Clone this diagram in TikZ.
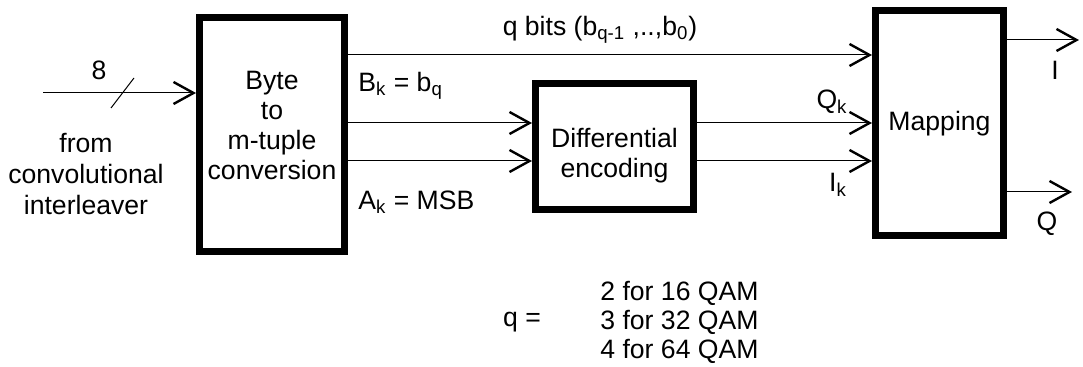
\documentclass[tikz,border=0pt]{standalone}
\usepackage{fontspec}
\setmainfont{Liberation Sans}
\usetikzlibrary{arrows.meta}

\begin{document}
\begin{tikzpicture}[x=0.5pt,y=-0.5pt,font=\fontsize{13.3}{15.5}\selectfont,
    box/.style={draw,line width=3.5pt,inner sep=0pt},
    sig/.style={line width=0.5pt,-{Straight Barb[length=10pt,width=11pt,line width=1.2pt]}}]
    \useasboundingbox(0,0)rectangle(1083,367);
    % blocks
    \node[box,minimum width=72.5pt,minimum height=117pt](byte)at(272,134.5){};
    \node[box,minimum width=79pt,minimum height=63pt](diff)at(614.5,146.5){};
    \node[box,minimum width=64pt,minimum height=112.75pt](map)at(939.5,123.25){Mapping};
    \node[align=center,font=\fontsize{13.3}{15}\selectfont](bytetxt)at(272,125){Byte\\to\\m-tuple\\conversion};
    \node[align=center,font=\fontsize{13.3}{15}\selectfont](difftxt)at(614.5,156){Differential\\encoding};
    \path(43,93)coordinate(in)(1079,40)coordinate(I)(1072,192)coordinate(Q);
    % connectors
    \draw[sig](in)--(in-|byte.west);
    \draw[line width=0.5pt](111,108)coordinate(s1)--(134,78)coordinate(s2);
    \draw[sig](byte.east|-0,55)--(map.west|-0,55);
    \draw[sig](byte.east|-0,123)--(diff.west|-0,123);
    \draw[sig](byte.east|-0,161)--(diff.west|-0,161);
    \draw[sig](diff.east|-0,123)--(map.west|-0,123);
    \draw[sig](diff.east|-0,161)--(map.west|-0,161);
    \draw[sig](map.east|-I)--(I);
    \draw[sig](map.east|-Q)--(Q);
    % labels
    \node(n8)at(99,70){8};
    \node[align=center](src)at(86,174){from\\convolutional\\interleaver};
    \node[anchor=west,inner sep=0pt](bk)at(358,86){B\textsubscript{k} = b\textsubscript{q}};
    \node[anchor=west,inner sep=0pt](ak)at(358,202){A\textsubscript{k} = MSB};
    \node(qbits)at(600,30){q bits (b\textsubscript{q-1} ,..,b\textsubscript{0})};
    \node(qk)at(832,102){Q\textsubscript{k}};
    \node(ik)at(838,185){I\textsubscript{k}};
    \node(lI)at(1055,70){I};
    \node(lQ)at(1047,224){Q};
    \node(qeq)at(522,322){q =};
    \node[anchor=west,align=left,inner sep=0pt,font=\fontsize{13.3}{14.5}\selectfont](qam)at(600,322){2 for 16 QAM\\3 for 32 QAM\\4 for 64 QAM};
\end{tikzpicture}
\end{document}
